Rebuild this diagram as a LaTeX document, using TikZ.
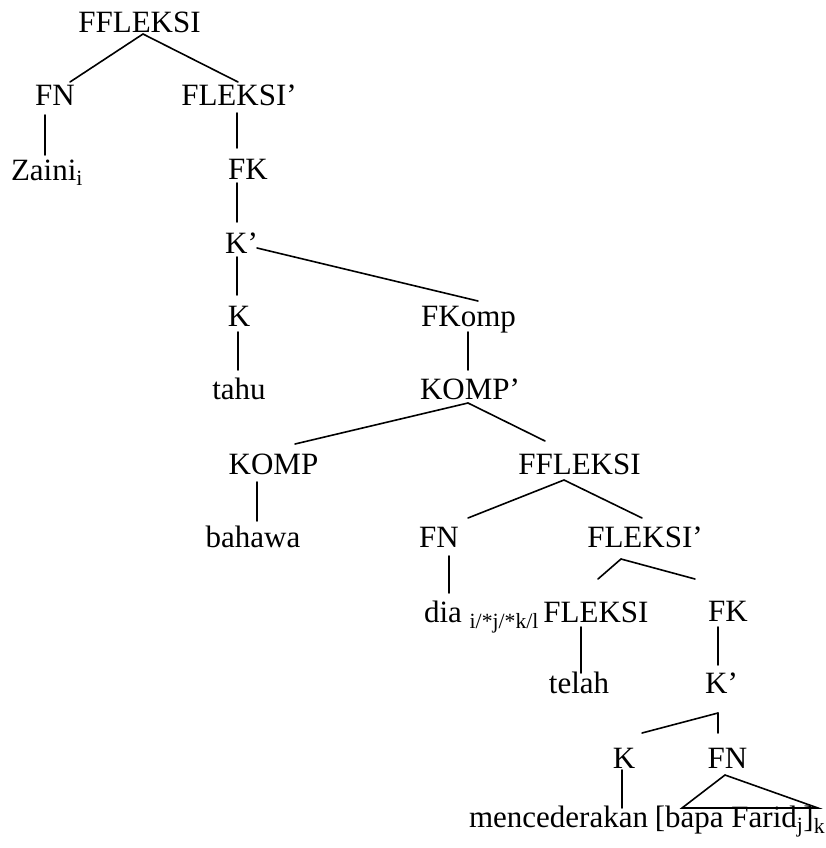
\documentclass[tikz,border=0pt]{standalone}
\usepackage{fontspec}
\setmainfont{Liberation Serif}
\usetikzlibrary{calc}
\tikzset{
  lbl/.style={inner sep=0pt, outer sep=0pt, anchor=base, text height=24pt, text depth=6pt,
              font=\fontsize{31}{36}\selectfont},
  branch/.style={line width=1.6pt, line cap=round}
}

\begin{document}
\begin{tikzpicture}[x=1pt, y=-1pt]
    \useasboundingbox (0,0) rectangle (825,848);

    % upper part of the tree
    \node [lbl] (ffleksiA) at (139.5,33) {FFLEKSI};
    \node [lbl] (fnA) at (55,106) {FN};
    \node [lbl] (fleksiA) at (239,106) {FLEKSI’};
    \node [lbl] (zaini) at (47,180) {Zaini\textsubscript{i}};
    \node [lbl] (fkA) at (248,179) {FK};
    \node [lbl] (kbarA) at (241.5,253) {K’};
    \node [lbl] (kA) at (239,326) {K};
    \node [lbl] (fkomp) at (468.5,326) {FKomp};
    \node [lbl] (tahu) at (239,399) {tahu};
    \node [lbl] (kompbar) at (470,399) {KOMP’};

    % embedded clause
    \node [lbl] (komp) at (273.5,474) {KOMP};
    \node [lbl] (ffleksiB) at (579.5,474) {FFLEKSI};
    \node [lbl] (bahawa) at (253,547) {bahawa};
    \node [lbl] (fnB) at (439,547) {FN};
    \node [lbl] (fleksiB) at (645,547) {FLEKSI’};
    \node [lbl] (dia) at (481.5,622) {dia \textsubscript{i/*j/*k/l}};
    \node [lbl] (fleksiC) at (596,622) {FLEKSI};
    \node [lbl] (fkB) at (728,621) {FK};
    \node [lbl] (telah) at (579,693) {telah};
    \node [lbl] (kbarB) at (721.5,693) {K’};
    \node [lbl] (kB) at (624,768) {K};
    \node [lbl] (fnC) at (727.5,768) {FN};
    \node [lbl] (menc) at (558.5,827) {mencederakan};
    \node [lbl] (bapa) at (740,827) {[bapa Farid\textsubscript{j}]\textsubscript{k}};

    % branches
    \begin{scope}[branch]
    \draw ([shift={(3.5,-5)}]ffleksiA.south) -- ([shift={(15,0)}]fnA.north);
    \draw ([shift={(3.5,-5)}]ffleksiA.south) -- ([shift={(-1,0)}]fleksiA.north);
    \draw ([shift={(-10,3)}]fnA.south) -- ([shift={(-2,-1)}]zaini.north);
    \draw ([shift={(-2,1)}]fleksiA.south) -- ([shift={(-11,-7)}]fkA.north);
    \draw ([shift={(-11,-2)}]fkA.south) -- ([shift={(-4.5,-7)}]kbarA.north);
    \draw ([shift={(-4.5,-2)}]kbarA.south) -- ([shift={(-2,-7)}]kA.north);
    \draw ([shift={(15.5,-11)}]kbarA.south) -- ([shift={(9.5,-1)}]fkomp.north);
    \draw ([shift={(-1,0)}]kA.south) -- ([shift={(-1,-5)}]tahu.north);
    \draw ([shift={(-0.5,0)}]fkomp.south) -- ([shift={(-2,-5)}]kompbar.north);
    \draw ([shift={(-2,-2)}]kompbar.south) -- ([shift={(21.5,-6)}]komp.north);
    \draw ([shift={(-2,-2)}]kompbar.south) -- ([shift={(-34.5,-9)}]ffleksiB.north);
    \draw ([shift={(-16.5,2)}]komp.south) -- ([shift={(4,-2)}]bahawa.north);
    \draw ([shift={(-15.5,0)}]ffleksiB.south) -- ([shift={(29,-5)}]fnB.north);
    \draw ([shift={(-15.5,0)}]ffleksiB.south) -- ([shift={(-3,-5)}]fleksiB.north);
    \draw ([shift={(10,3)}]fnB.south) -- ([shift={(-32.5,-5)}]dia.north);
    \draw ([shift={(-24,6)}]fleksiB.south) -- ([shift={(2,-19)}]fleksiC.north);
    \draw ([shift={(-24,6)}]fleksiB.south) -- ([shift={(-33,-18)}]fkB.north);
    \draw ([shift={(-15,-1)}]fleksiC.south) -- ([shift={(2,4)}]telah.north);
    \draw ([shift={(-10,0)}]fkB.south) -- ([shift={(-3.5,-4)}]kbarB.north);
    \draw ([shift={(-3.5,14)}]kbarB.south) -- ([shift={(18,-11)}]kB.north);
    \draw ([shift={(-3.5,14)}]kbarB.south) -- ([shift={(-9.5,-11)}]fnC.north);
    \draw ([shift={(-2,-4)}]kB.south) -- ([shift={(63.5,5)}]menc.north);
    \draw ([shift={(-2.5,1)}]fnC.south) -- ([shift={(-58,5)}]bapa.north)
          -- ([shift={(78,5)}]bapa.north) -- cycle;
    \end{scope}
\end{tikzpicture}
\end{document}
